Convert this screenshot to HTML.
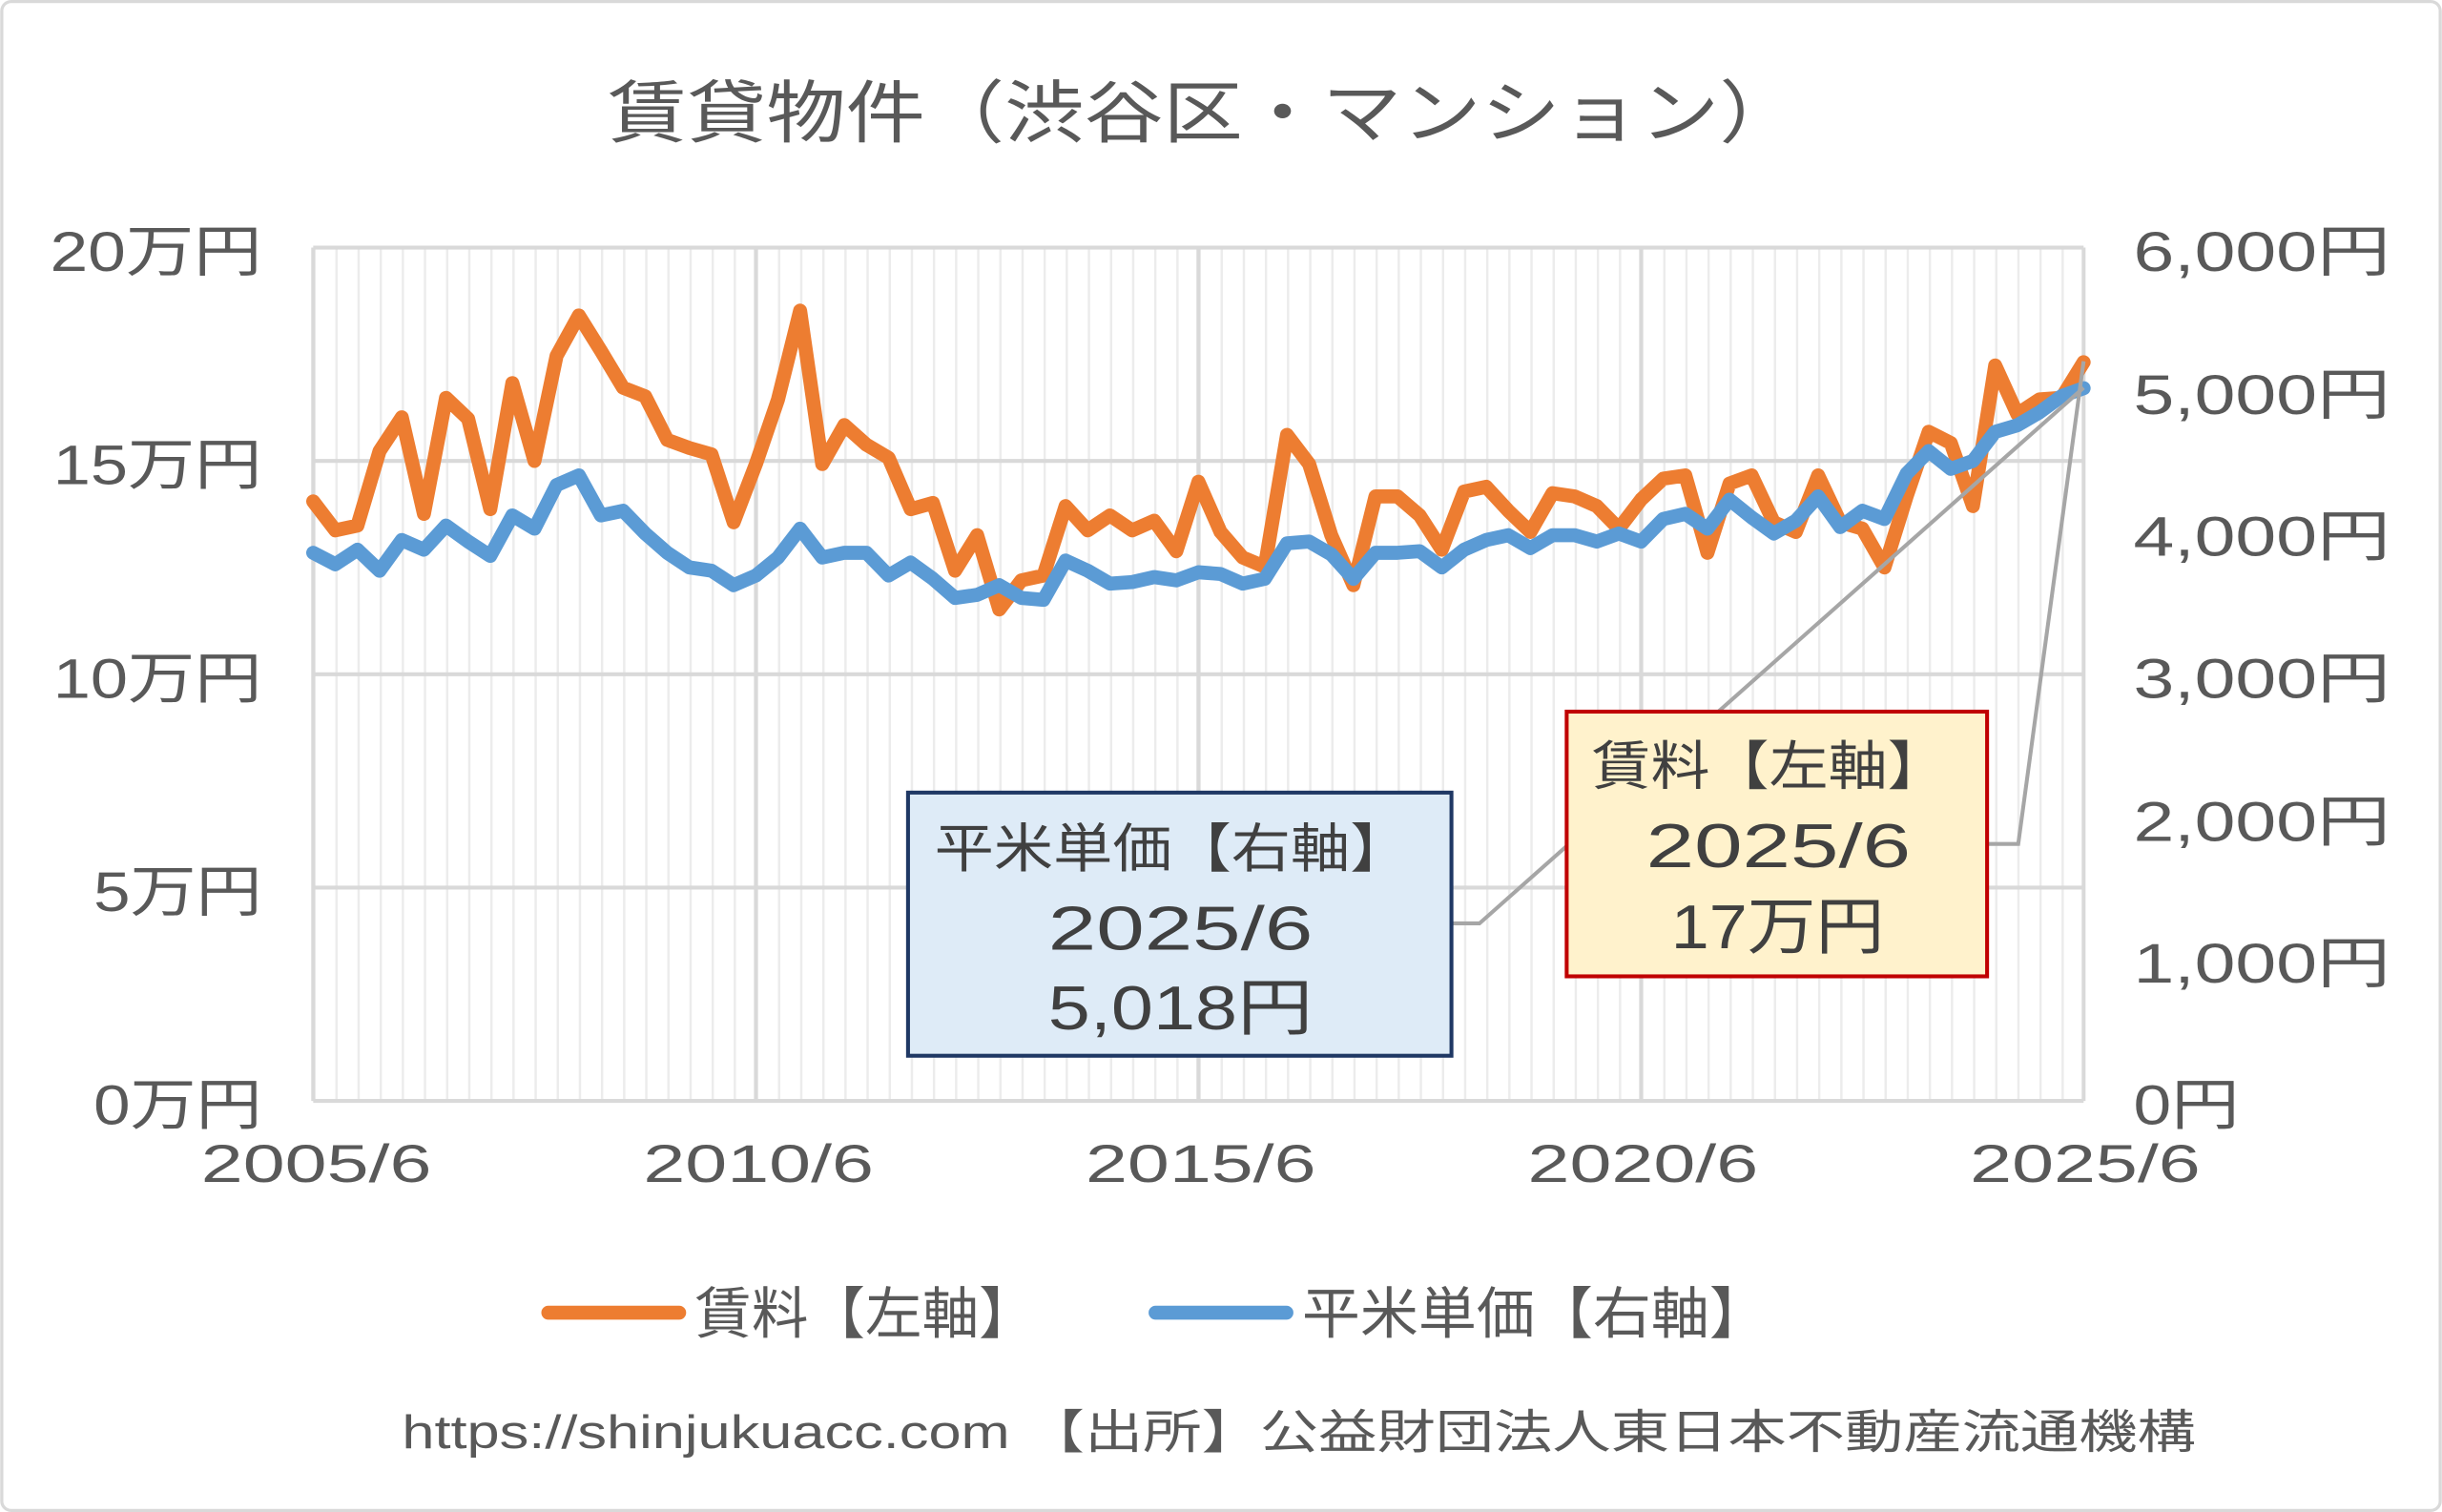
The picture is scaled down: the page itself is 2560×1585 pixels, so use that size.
<!DOCTYPE html>
<html><head><meta charset="utf-8"><style>
html,body{margin:0;padding:0;background:#fff;}
svg{display:block;}
text{font-family:"Liberation Sans","Noto Sans CJK JP",sans-serif;fill:#595959;}
</style></head><body>
<svg width="2560" height="1585" viewBox="0 0 1568 971" xmlns="http://www.w3.org/2000/svg">
<defs>
<pattern id="mg" x="201" y="0" width="14.2125" height="971" patternUnits="userSpaceOnUse">
<line x1="0.75" y1="0" x2="0.75" y2="971" stroke="#ececec" stroke-width="1.5"/>
</pattern>
</defs>
<rect x="0" y="0" width="1568" height="971" fill="#fff"/>
<rect x="1" y="1" width="1566" height="969" rx="6" fill="none" stroke="#d9d9d9" stroke-width="2"/>
<text x="390" y="88" font-size="44" textLength="765" lengthAdjust="spacingAndGlyphs">賃貸物件（渋谷区・マンション）</text>
<rect x="201" y="159" width="1137" height="548" fill="url(#mg)"/>
<g stroke="#d9d9d9" stroke-width="2.5">
<line x1="201" y1="159" x2="1338" y2="159"/>
<line x1="201" y1="296" x2="1338" y2="296"/>
<line x1="201" y1="433" x2="1338" y2="433"/>
<line x1="201" y1="570" x2="1338" y2="570"/>
<line x1="201" y1="159" x2="201" y2="707"/>
<line x1="485.3" y1="159" x2="485.3" y2="707"/>
<line x1="769.5" y1="159" x2="769.5" y2="707"/>
<line x1="1053.8" y1="159" x2="1053.8" y2="707"/>
<line x1="1338" y1="159" x2="1338" y2="707"/>
<line x1="201" y1="707" x2="1338" y2="707"/>
</g>
<g font-size="36" lengthAdjust="spacingAndGlyphs">
<text x="32" y="174" textLength="136" lengthAdjust="spacingAndGlyphs">20万円</text>
<text x="34" y="311" textLength="134" lengthAdjust="spacingAndGlyphs">15万円</text>
<text x="34" y="448" textLength="134" lengthAdjust="spacingAndGlyphs">10万円</text>
<text x="60" y="585" textLength="108" lengthAdjust="spacingAndGlyphs">5万円</text>
<text x="60" y="722" textLength="108" lengthAdjust="spacingAndGlyphs">0万円</text>
</g>
<g font-size="36">
<text x="1370" y="174" textLength="165" lengthAdjust="spacingAndGlyphs">6,000円</text>
<text x="1370" y="266" textLength="165" lengthAdjust="spacingAndGlyphs">5,000円</text>
<text x="1370" y="357" textLength="165" lengthAdjust="spacingAndGlyphs">4,000円</text>
<text x="1370" y="448" textLength="165" lengthAdjust="spacingAndGlyphs">3,000円</text>
<text x="1370" y="540" textLength="165" lengthAdjust="spacingAndGlyphs">2,000円</text>
<text x="1370" y="631" textLength="165" lengthAdjust="spacingAndGlyphs">1,000円</text>
<text x="1370" y="722" textLength="68" lengthAdjust="spacingAndGlyphs">0円</text>
</g>
<g font-size="34">
<text x="129" y="759" textLength="148" lengthAdjust="spacingAndGlyphs">2005/6</text>
<text x="413" y="759" textLength="148" lengthAdjust="spacingAndGlyphs">2010/6</text>
<text x="697" y="759" textLength="148" lengthAdjust="spacingAndGlyphs">2015/6</text>
<text x="981" y="759" textLength="148" lengthAdjust="spacingAndGlyphs">2020/6</text>
<text x="1265" y="759" textLength="148" lengthAdjust="spacingAndGlyphs">2025/6</text>
</g>
<polyline fill="none" stroke="#ED7D31" stroke-width="9" stroke-linejoin="round" stroke-linecap="round" points="201,322 215.2,340.6 229.4,337.5 243.6,289.7 257.9,268 272.1,330 286.3,255.5 300.5,269 314.7,327 328.9,246 343.1,296 357.3,228.5 371.6,202.6 385.8,225.4 400,249 414.2,254.5 428.4,282.5 442.6,287.7 456.8,291.8 471,335.4 485.3,298 499.5,256.5 513.7,199.5 527.9,298 542.1,273 556.3,285.6 570.5,294 584.7,327 599,323 613.2,366.5 627.4,343.7 641.6,391.4 655.8,372.7 670,369.6 684.2,325 698.4,340.6 712.7,331 726.9,340.6 741.1,334.4 755.3,354 769.5,309.4 783.7,341.6 797.9,358 812.1,364 826.4,279.3 840.6,298 854.8,343.7 869,375.8 883.2,318.8 897.4,318.8 911.6,331 925.8,353 940.1,315.7 954.3,312.6 968.5,328 982.7,341.6 996.9,316.7 1011.1,318.8 1025.3,325 1039.5,339.5 1053.8,320.8 1068,307.4 1082.2,305.3 1096.4,355 1110.6,310.5 1124.8,305.3 1139,335.4 1153.2,341.6 1167.5,305.3 1181.7,335.4 1195.9,339.5 1210.1,364.4 1224.3,318.8 1238.5,277.3 1252.7,284.5 1266.9,325 1281.2,234.7 1295.4,265.9 1309.6,256.5 1323.8,255.5 1338,232.6"/>
<polyline fill="none" stroke="#5B9BD5" stroke-width="9" stroke-linejoin="round" stroke-linecap="round" points="201,355 215.2,362.4 229.4,353 243.6,366.5 257.9,346.8 272.1,353 286.3,337.5 300.5,347.8 314.7,357 328.9,331 343.1,339.5 357.3,311.5 371.6,305.3 385.8,331 400,328 414.2,342.6 428.4,355 442.6,364.4 456.8,366.5 471,375.8 485.3,369.6 499.5,358 513.7,339.5 527.9,358 542.1,355 556.3,355 570.5,369.6 584.7,361.3 599,371.7 613.2,384 627.4,382 641.6,375.8 655.8,384 670,385.2 684.2,360 698.4,366.5 712.7,374.8 726.9,373.8 741.1,370.6 755.3,372.7 769.5,367.5 783.7,368.6 797.9,374.8 812.1,371.7 826.4,348.9 840.6,347.8 854.8,356 869,371.7 883.2,355 897.4,355 911.6,354 925.8,364.4 940.1,353 954.3,346.8 968.5,343.7 982.7,352 996.9,343.7 1011.1,343.7 1025.3,347.8 1039.5,342.6 1053.8,347.8 1068,333.3 1082.2,330 1096.4,339.5 1110.6,320.9 1124.8,332.3 1139,342.6 1153.2,334.4 1167.5,318.8 1181.7,338.5 1195.9,328 1210.1,333.3 1224.3,304.2 1238.5,289.7 1252.7,301.1 1266.9,296 1281.2,277.3 1295.4,273.1 1309.6,264.8 1323.8,254.4 1338,249.3"/>
<polyline fill="none" stroke="#a6a6a6" stroke-width="2.5" points="932,593 950,593 1338,249"/>
<polyline fill="none" stroke="#a6a6a6" stroke-width="2.5" points="1276,542 1296,542 1338,232"/>
<rect x="583" y="509" width="349" height="169" fill="#DEEBF7" stroke="#1F3864" stroke-width="2.5"/>
<text x="600" y="557" font-size="34" textLength="305" lengthAdjust="spacingAndGlyphs" style="fill:#404040">平米単価【右軸】</text>
<text x="673" y="610" font-size="40" textLength="170" lengthAdjust="spacingAndGlyphs" style="fill:#404040">2025/6</text>
<text x="673" y="661" font-size="40" textLength="170" lengthAdjust="spacingAndGlyphs" style="fill:#404040">5,018円</text>
<rect x="1006" y="457" width="270" height="170" fill="#FFF2CC" stroke="#C00000" stroke-width="2.5"/>
<text x="1022" y="504" font-size="34" textLength="228" lengthAdjust="spacingAndGlyphs" style="fill:#404040">賃料【左軸】</text>
<text x="1057" y="557" font-size="40" textLength="170" lengthAdjust="spacingAndGlyphs" style="fill:#404040">2025/6</text>
<text x="1073" y="609" font-size="40" textLength="137" lengthAdjust="spacingAndGlyphs" style="fill:#404040">17万円</text>
<line x1="352" y1="843" x2="436" y2="843" stroke="#ED7D31" stroke-width="9" stroke-linecap="round"/>
<text x="446" y="856" font-size="36" textLength="219" lengthAdjust="spacingAndGlyphs">賃料【左軸】</text>
<line x1="742" y1="843" x2="826" y2="843" stroke="#5B9BD5" stroke-width="9" stroke-linecap="round"/>
<text x="836" y="856" font-size="36" textLength="299" lengthAdjust="spacingAndGlyphs">平米単価【右軸】</text>
<text x="258" y="930" font-size="30" textLength="1152" lengthAdjust="spacingAndGlyphs">https://shinjukuacc.com 【出所】公益財団法人東日本不動産流通機構</text>
</svg>
</body></html>
